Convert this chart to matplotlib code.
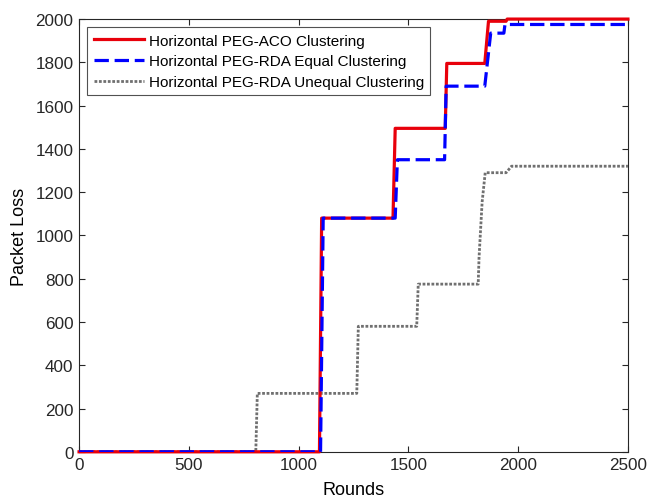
import numpy as np
import matplotlib
matplotlib.use("Agg")
import matplotlib.pyplot as plt

plt.rcParams['font.family'] = ['Liberation Sans', 'DejaVu Sans']

# packet loss vs rounds
aco_rounds = [0, 1095, 1105, 1430, 1440, 1668, 1675, 1848, 1865, 1945, 1950, 2500]
aco_loss = [0, 0, 1080, 1080, 1495, 1495, 1795, 1795, 1990, 1990, 2000, 2000]

rda_eq_rounds = [0, 1100, 1112, 1440, 1450, 1665, 1672, 1848, 1875, 1935, 1940, 2500]
rda_eq_loss = [0, 0, 1080, 1080, 1350, 1350, 1690, 1690, 1935, 1935, 1975, 1975]

rda_uneq_rounds = [0, 805, 812, 1265, 1272, 1538, 1545, 1818, 1822, 1836, 1850, 1945, 1970, 2500]
rda_uneq_loss = [0, 0, 270, 270, 580, 580, 775, 775, 900, 1155, 1290, 1290, 1320, 1320]

labels = ['Horizontal PEG-ACO Clustering',
          'Horizontal PEG-RDA Equal Clustering',
          'Horizontal PEG-RDA Unequal Clustering']

fig = plt.figure(figsize=(6.48, 5.02), dpi=100)
ax = fig.add_axes([0.122, 0.098, 0.847, 0.862])

ax.plot(aco_rounds, aco_loss, color='#e8000b', lw=2.3, label=labels[0], clip_on=False, zorder=3)
ax.plot(rda_eq_rounds, rda_eq_loss, color='#0000ff', lw=2.3, ls=(0, (4.5, 1.8)), label=labels[1], zorder=4)
ax.plot(rda_uneq_rounds, rda_uneq_loss, color='#707070', lw=2.0, ls=(0, (1, 0.6)), label=labels[2], zorder=2)

ax.set_xlim(0, 2500)
ax.set_ylim(0, 2000)
ax.set_xticks(np.arange(0, 2501, 500))
ax.set_yticks(np.arange(0, 2001, 200))
ax.tick_params(direction='in', top=True, right=True, labelsize=12.3, length=4, width=0.8,
               colors='#262626', pad=4)
for s in ax.spines.values():
    s.set_linewidth(0.8)
    s.set_color('#262626')

ax.set_xlabel('Rounds', fontsize=13, labelpad=6)
ax.set_ylabel('Packet Loss', fontsize=13, labelpad=5)

leg = ax.legend(loc='upper left', fontsize=11, frameon=True, fancybox=False,
                edgecolor='#262626', borderaxespad=0.55, handlelength=3.3,
                handletextpad=0.3, labelspacing=0.45, borderpad=0.4)
leg.get_frame().set_linewidth(0.8)

fig.savefig('out.png', dpi=100)
